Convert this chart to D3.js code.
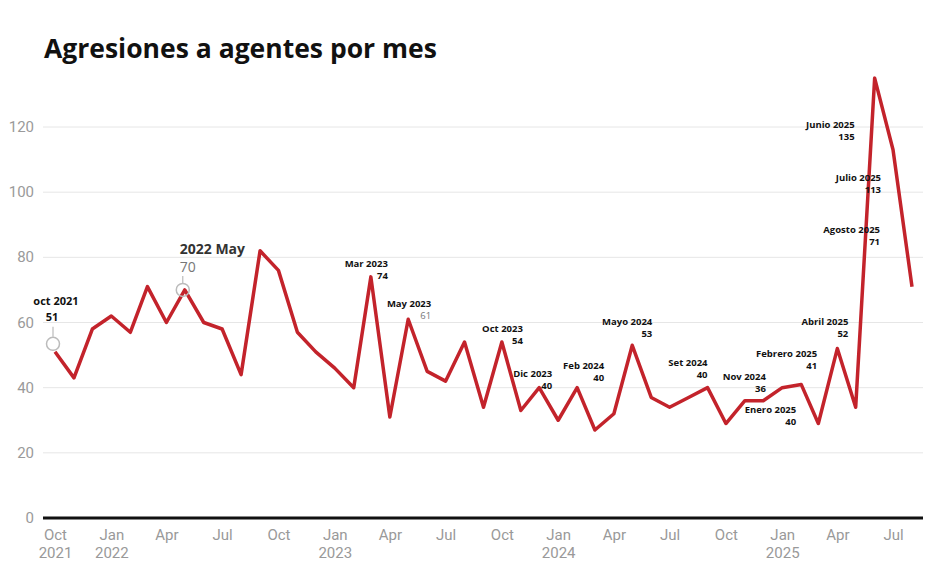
<!DOCTYPE html>
<html>
<head>
<meta charset="utf-8">
<script src="https://cdn.jsdelivr.net/npm/d3@7"></script>
<style>
  body { margin: 0; background: #fff; }
  svg { display: block; }
</style>
</head>
<body>
<div id="drawing_region"></div>
<script>
// monthly data, Oct 2021 .. Aug 2025
const startMonth = new Date(2021, 9, 1);
const values = [
  51, 43, 58,
  62, 57, 71, 60, 70, 60, 58, 44, 82, 76, 57, 51,
  46, 40, 74, 31, 61, 45, 42, 54, 34, 54, 33, 40,
  30, 40, 27, 32, 53, 37, 34, 37, 40, 29, 36, 36,
  40, 41, 29, 52, 34, 135, 113, 71
];
const yTicks = [0, 20, 40, 60, 80, 100, 120];
const monthNames = ["Jan", "Feb", "Mar", "Apr", "May", "Jun", "Jul", "Aug", "Sep", "Oct", "Nov", "Dec"];

// small annotations: month index, label, shown value
const noteIndex = [17, 19, 24, 26, 28, 31, 35, 37, 39, 40, 42, 44, 45, 46];
const noteLabels = ["Mar 2023", "May 2023", "Oct 2023", "Dic 2023", "Feb 2024", "Mayo 2024", "Set 2024",
  "Nov 2024", "Enero 2025", "Febrero 2025", "Abril 2025", "Junio 2025", "Julio 2025", "Agosto 2025"];
const noteValues = [74, 61, 54, 40, 40, 53, 40, 36, 40, 41, 52, 135, 113, 71];
// label offsets from the point (layout only)
const noteOffsets = [[17, -10], [23, -12], [21, -10], [13, -11], [27, -19], [20, -20], [0, -22],
  [21, -21], [14, 25], [16, -27], [11, -24], [-20, 50], [-12, 31], [-32, -54]];

const data = values.map((v, i) => ({ date: d3.timeMonth.offset(startMonth, i), value: v }));

const config = {
  parent: '#drawing_region',
  width: 950,
  height: 581,
  left: 43, right: 923
};

const svg = d3.select(config.parent).append('svg')
  .attr('width', config.width)
  .attr('height', config.height);

const x = d3.scaleTime()
  .domain([data[0].date, data[data.length - 1].date])
  .range([55, 912]);

const y = d3.scaleLinear()
  .domain([0, 120])
  .range([518, 127]);

// title
svg.append('text')
  .attr('x', 44).attr('y', 58)
  .attr('font-family', 'Open Sans')
  .attr('font-weight', 700)
  .attr('font-size', 26.5)
  .attr('fill', '#111')
  .text('Agresiones a agentes por mes');

// grid + y labels
const yAxis = svg.append('g');
yAxis.selectAll('line.grid')
  .data(yTicks.filter(d => d > 0))
  .enter().append('line')
  .attr('class', 'grid')
  .attr('x1', config.left).attr('x2', config.right)
  .attr('y1', d => y(d)).attr('y2', d => y(d))
  .attr('stroke', '#e6e6e6').attr('stroke-width', 1);
yAxis.selectAll('text')
  .data(yTicks)
  .enter().append('text')
  .attr('x', 34).attr('y', d => y(d) + 5)
  .attr('text-anchor', 'end')
  .attr('font-family', 'Roboto')
  .attr('font-size', 15)
  .attr('fill', '#9a9a9a')
  .text(d => d);

// x axis
const xAxis = svg.append('g')
  .attr('transform', `translate(0, ${y(0)})`)
  .call(d3.axisBottom(x)
    .ticks(d3.timeMonth.every(3))
    .tickSize(0)
    .tickPadding(0)
    .tickFormat(''));
xAxis.select('.domain').remove();
xAxis.selectAll('.tick text').each(function (d) {
  const t = d3.select(this)
    .attr('font-family', 'Roboto')
    .attr('font-size', 15)
    .attr('fill', '#999')
    .attr('y', 22);
  t.append('tspan').attr('x', 0).attr('dy', 0).text(monthNames[d.getMonth()]);
  if (d.getMonth() === 0 || +d === +startMonth) {
    t.append('tspan').attr('x', 0).attr('dy', 18).text(d.getFullYear());
  }
});

svg.append('line')
  .attr('x1', config.left).attr('x2', config.right)
  .attr('y1', y(0)).attr('y2', y(0))
  .attr('stroke', '#111').attr('stroke-width', 3);

// line
svg.append('path')
  .datum(data)
  .attr('fill', 'none')
  .attr('stroke', '#c3232b')
  .attr('stroke-width', 3.5)
  .attr('stroke-linejoin', 'round')
  .attr('d', d3.line().x(d => x(d.date)).y(d => y(d.value)));

// big annotations with circle markers
const circled = [
  { i: 0, label: 'oct 2021', big: false },
  { i: 7, label: '2022 May', big: true }
];
circled.forEach(c => {
  const px = x(data[c.i].date), py = y(data[c.i].value);
  const g = svg.append('g');
  const cy = py - 8 * (c.big ? 0 : 1);
  g.append('circle')
    .attr('cx', px - 2).attr('cy', cy)
    .attr('r', 6.5)
    .attr('fill', 'none')
    .attr('stroke', '#bbb').attr('stroke-width', 1.5);
  g.append('line')
    .attr('x1', px - 2).attr('x2', px - 2)
    .attr('y1', cy - 7).attr('y2', cy - (c.big ? 14 : 17))
    .attr('stroke', '#bbb').attr('stroke-width', 1.2);
  if (c.big) {
    g.append('text')
      .attr('x', px - 5).attr('y', py - 36)
      .attr('font-family', 'Open Sans').attr('font-weight', 700).attr('font-size', 14)
      .attr('fill', '#333').text(c.label);
    g.append('text')
      .attr('x', px - 5).attr('y', py - 18)
      .attr('font-family', 'Open Sans').attr('font-size', 14)
      .attr('fill', '#777').text(data[c.i].value);
  } else {
    g.append('text')
      .attr('x', px + 1).attr('y', py - 47)
      .attr('text-anchor', 'middle')
      .attr('font-family', 'Open Sans').attr('font-weight', 700).attr('font-size', 11)
      .attr('fill', '#111').text(c.label);
    g.append('text')
      .attr('x', px - 3).attr('y', py - 31)
      .attr('text-anchor', 'middle')
      .attr('font-family', 'Open Sans').attr('font-weight', 700).attr('font-size', 11)
      .attr('fill', '#111').text(data[c.i].value);
  }
});

// small annotations
const notes = svg.append('g')
  .attr('font-family', 'Open Sans')
  .attr('font-size', 9.5)
  .attr('text-anchor', 'end');
noteIndex.forEach((idx, k) => {
  const px = x(data[idx].date), py = y(data[idx].value);
  const [dx, dy] = noteOffsets[k];
  notes.append('text')
    .attr('x', px + dx).attr('y', py + dy)
    .attr('font-weight', 700).attr('fill', '#111')
    .text(noteLabels[k]);
  const gray = noteLabels[k] === 'May 2023';
  notes.append('text')
    .attr('x', px + dx).attr('y', py + dy + 12)
    .attr('font-weight', gray ? 400 : 700)
    .attr('fill', gray ? '#777' : '#111')
    .text(noteValues[k]);
});
</script>
</body>
</html>
